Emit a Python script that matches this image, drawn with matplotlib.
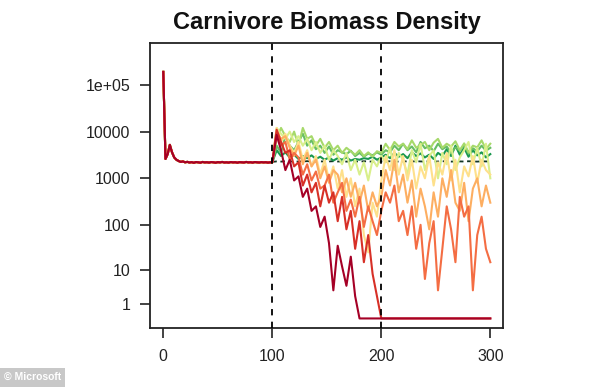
import numpy as np
import matplotlib
matplotlib.use("Agg")
import matplotlib.pyplot as plt

# ---------------- data ----------------
pre_times = list(range(0, 100, 2))
post_times = list(range(100, 301, 4))

pre_values = [190000, 2600, 3300, 5200, 3600, 2800, 2500, 2350, 2250, 2300,
              2200, 2250, 2180, 2220, 2150, 2230, 2200, 2160, 2240, 2190,
              2210, 2170, 2230, 2200, 2160, 2220, 2190, 2240, 2180, 2200,
              2170, 2230, 2190, 2210, 2160, 2220, 2200, 2180, 2240, 2190,
              2210, 2170, 2230, 2200, 2180, 2220, 2190, 2210, 2170, 2200]

s_darkred = [2200, 8500, 4000, 1500, 2500, 900, 1100, 400, 600, 200,
             250, 90, 150, 40, 3, 35, 12, 4, 20, 2,
             0, 0, 0, 0, 0, 0, 0, 0, 0, 0,
             0, 0, 0, 0, 0, 0, 0, 0, 0, 0,
             0, 0, 0, 0, 0, 0, 0, 0, 0, 0,
             0]
s_red = [2200, 11000, 6000, 3500, 4000, 1800, 2200, 700, 1200, 500,
         800, 250, 700, 300, 500, 120, 400, 80, 200, 30,
         120, 15, 60, 8, 2, 0, 0, 0, 0, 0,
         0, 0, 0, 0, 0, 0, 0, 0, 0, 0,
         0, 0, 0, 0, 0, 0, 0, 0, 0, 0,
         0]
s_orangered = [2200, 9000, 5000, 6000, 2500, 3500, 2800, 1200, 2000, 900,
               1400, 600, 700, 1200, 300, 500, 800, 200, 350, 150,
               400, 90, 250, 120, 60, 200, 500, 300, 700, 120,
               200, 60, 250, 30, 100, 6, 40, 120, 3, 30,
               250, 80, 15, 400, 150, 250, 3, 60, 150, 30,
               15]
s_orange = [2200, 10000, 7000, 8000, 4500, 3000, 5000, 2000, 3500, 1800,
            2500, 1000, 1800, 800, 1500, 1200, 500, 1000, 400, 800,
            300, 700, 200, 500, 250, 400, 1500, 700, 2500, 500,
            1200, 300, 900, 150, 600, 250, 80, 500, 150, 1000,
            400, 1500, 300, 200, 800, 120, 600, 1000, 250, 700,
            300]
s_yellow = [2200, 12000, 6000, 9000, 5000, 3500, 6000, 2500, 4000, 1800,
            3000, 1200, 2500, 900, 1800, 600, 1500, 400, 1000, 250,
            600, 60, 25, 300, 150, 900, 3000, 1500, 4000, 1200,
            3000, 900, 2500, 600, 1800, 1000, 3000, 700, 2200, 1200,
            3500, 900, 2500, 500, 1800, 1100, 3000, 800, 2500, 1500,
            1200]
s_palegreen = [2200, 12000, 9000, 7000, 10000, 6000, 8000, 5000, 7000, 4000,
               6000, 3500, 5000, 2500, 4000, 3000, 2000, 3500, 1500, 2500,
               1200, 2200, 900, 2500, 1800, 3000, 2200, 4500, 1500, 3500,
               2500, 1200, 4000, 2200, 5500, 1500, 3000, 4000, 1000, 3500,
               2000, 5000, 1500, 2800, 4000, 6000, 2000, 4500, 1800, 5500,
               1000]
s_lightgreen = [2200, 7000, 12000, 8000, 6000, 10000, 5000, 12000, 7000, 8000,
                5000, 7000, 4500, 6000, 4000, 5000, 3500, 4500, 3800, 3200,
                4000, 3000, 3600, 2900, 3800, 3500, 5500, 4000, 6000, 4800,
                5500, 4200, 6500, 4500, 5200, 6000, 4000, 5800, 7000, 4500,
                5500, 4800, 6200, 4000, 5600, 3600, 5000, 4600, 6500, 4200,
                5500]
s_green = [2200, 5000, 3500, 8000, 5000, 4000, 6000, 9000, 5000, 6500,
           4200, 5000, 3500, 4800, 3200, 4000, 3600, 3300, 3900, 3000,
           3500, 2900, 3400, 3100, 3600, 3200, 4000, 3600, 5000, 4000,
           5500, 4000, 4800, 3600, 6000, 4400, 5000, 3800, 5500, 4200,
           4800, 3500, 4600, 3900, 5200, 3400, 4400, 3800, 5000, 3900,
           4500]
s_darkgreen = [2200, 4000, 3000, 3600, 2800, 3200, 2600, 3000, 2700, 3100,
               2600, 2900, 2500, 2800, 2400, 2700, 2500, 2800, 2400, 2600,
               2500, 2700, 2600, 2900, 2500, 2800, 3200, 2700, 3500, 2900,
               3300, 2700, 3600, 3000, 3400, 2800, 3200, 2600, 3500, 3000,
               4200, 3000, 5000, 3200, 4500, 2900, 4000, 3100, 3600, 2800,
               3300]
s_baseline = [2250, 2300, 2280, 2320, 2290, 2310, 2280, 2300, 2330, 2290,
              2300, 2310, 2280, 2300, 2320, 2290, 2300, 2280, 2310, 2300,
              2290, 2320, 2300, 2280, 2310, 2300, 2290, 2320, 2300, 2280,
              2310, 2300, 2290, 2320, 2300, 2280, 2310, 2300, 2290, 2320,
              2300, 2280, 2310, 2300, 2290, 2320, 2300, 2280, 2310, 2300,
              2290]

series = [
    (s_darkgreen, "#1a9850"),
    (s_green, "#66bd63"),
    (s_lightgreen, "#a6d96a"),
    (s_palegreen, "#d9ef8b"),
    (s_yellow, "#fee08b"),
    (s_orange, "#fdae61"),
    (s_orangered, "#f46d43"),
    (s_red, "#d73027"),
    (s_darkred, "#a50026"),
]

y_ticks = [1, 10, 100, 1000, 10000, 100000]
y_tick_labels = ["1", "10", "100", "1000", "10000", "1e+05"]
x_ticks = [0, 100, 200, 300]
shock_times = [100, 200]

# ---------------- plotting ----------------
plt.rcParams['font.family'] = ['Liberation Sans', 'DejaVu Sans']

fig = plt.figure(figsize=(6.0, 3.87), dpi=100)
ax = fig.add_axes([0.25, 0.153, 0.589, 0.735])


def fwd(v):
    return np.log10(np.maximum(np.asarray(v, dtype=float) + 1.0, 1e-12))


def inv(u):
    return 10.0 ** np.asarray(u, dtype=float) - 1.0


ax.set_yscale('function', functions=(fwd, inv))

times = pre_times + post_times
ax.plot(post_times, s_baseline, color="#123524", lw=1.3, ls=(0, (2.5, 2)), zorder=2)
for vals, col in series:
    ax.plot(times, pre_values + vals, color=col, lw=1.5, zorder=3)

for st in shock_times:
    ax.axvline(st, color="black", lw=1.3, ls=(0, (3.5, 3.5)), zorder=5)

ax.set_xlim(-12.2, 312)
ax.set_ylim(inv(-0.2), inv(5.89))
ax.set_yticks(y_ticks)
ax.set_yticklabels(y_tick_labels)
ax.yaxis.set_minor_locator(matplotlib.ticker.NullLocator())
ax.set_xticks(x_ticks)
ax.set_xticklabels([str(x) for x in x_ticks])

ax.tick_params(axis='both', direction='out', length=7, width=1.2,
               labelsize=11.5, colors='#222222')
ax.tick_params(axis='y', pad=7)
ax.tick_params(axis='x', pad=8)
for sp in ax.spines.values():
    sp.set_linewidth(1.3)
    sp.set_color('#222222')

fig.text(0.5442, 0.942, "Carnivore Biomass Density", ha='center', va='center',
         fontsize=17, fontweight='bold', color='#111111')

fig.text(0.006, 0.012, "\u00a9 Microsoft", ha='left', va='bottom', fontsize=7.5,
         color='white', fontweight='bold',
         bbox=dict(boxstyle='square,pad=0.4', facecolor='#c8c8c8', edgecolor='none'))

fig.savefig("out.png", dpi=100)
